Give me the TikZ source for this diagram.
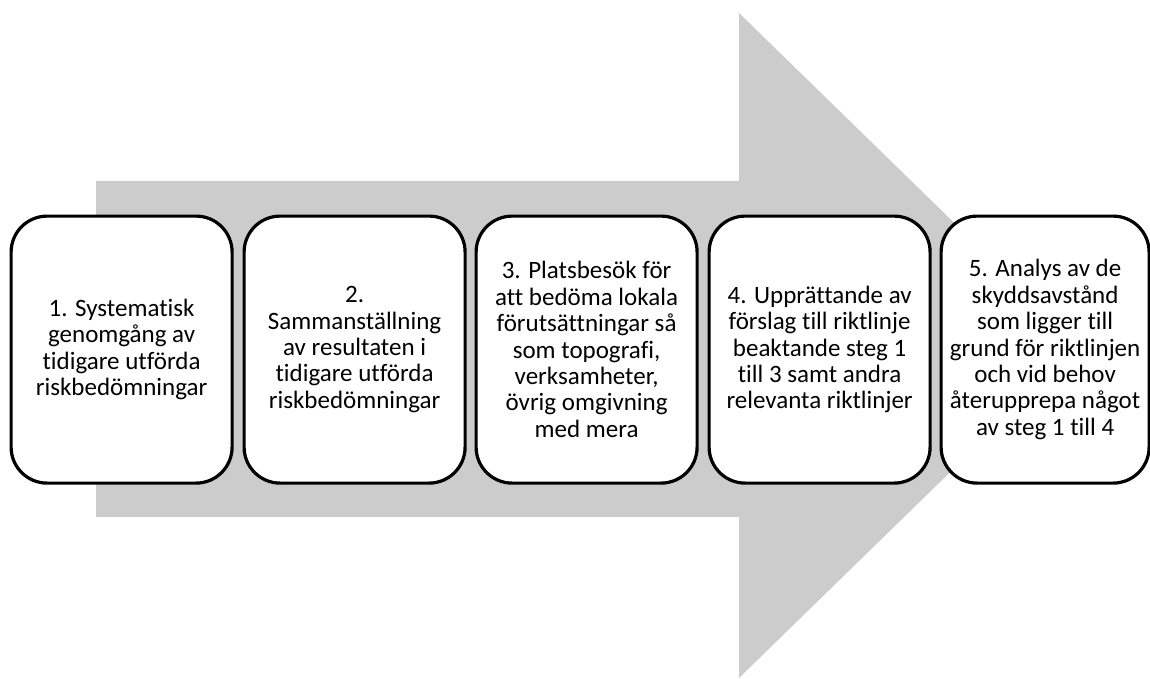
\documentclass[tikz,border=0pt]{standalone}
\usepackage{fontspec}
\setmainfont[Ligatures={NoCommon}]{Carlito}
\begin{document}
\begin{tikzpicture}[x=1pt,y=-1pt,
  stepbox/.style={draw=black,line width=3.2pt,rounded corners=36pt,fill=white,
    minimum width=221pt,minimum height=267pt,inner sep=0pt,align=center,
    font=\fontsize{25}{26.4}\selectfont,anchor=north west},
  arrowfill/.style={fill=black!20}]
\useasboundingbox (0,0) rectangle (1150,679);
\fill[arrowfill] (96,181) -- (739,181) -- (739,13) -- (1080,345.5) -- (739,678) -- (739,517) -- (96,517) -- cycle;
\node[stepbox] (s1) at (9.5,214.5) {1. Systematisk\\genomgång av\\tidigare utförda\\riskbedömningar};
\node[stepbox] (s2) at (242.5,214.5) {2.\\Sammanställning\\av resultaten i\\tidigare utförda\\riskbedömningar};
\node[stepbox] (s3) at (474.5,214.5) {3. Platsbesök för\\att bedöma lokala\\förutsättningar så\\som topografi,\\verksamheter,\\övrig omgivning\\med mera};
\node[stepbox] (s4) at (707.5,214.5) {4. Upprättande av\\förslag till riktlinje\\beaktande steg 1\\till 3 samt andra\\relevanta riktlinjer};
\node[stepbox,minimum width=208pt] (s5) at (939.5,214.5) {5. Analys av de\\skyddsavstånd\\som ligger till\\grund för riktlinjen\\och vid behov\\återupprepa något\\av steg 1 till 4};
\end{tikzpicture}
\end{document}
